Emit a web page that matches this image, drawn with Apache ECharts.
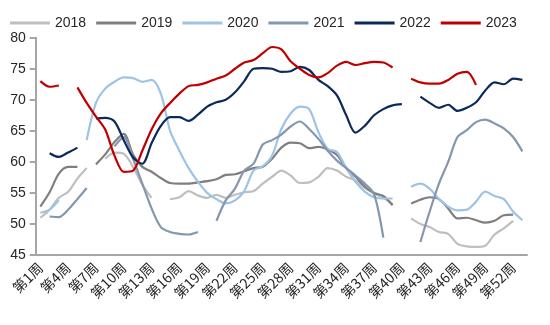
<!DOCTYPE html>
<html>
<head>
<meta charset="utf-8">
<script src="https://cdn.jsdelivr.net/npm/echarts@6/dist/echarts.min.js"></script>
<style>html,body{margin:0;padding:0;background:#fff;}#c{width:550px;height:325px;}</style>
</head>
<body>
<div id="c"></div>
<script>
var weeks = [];
for (var i = 1; i <= 53; i++) weeks.push('第' + i + '周');
var N = null;
var s2018 = [51.0,52.3,54.2,55.2,57.3,59.0,N,60.5,61.5,61.3,59.2,56.3,54.2,N,54.0,54.3,55.3,54.6,54.2,54.7,54.2,54.7,55.1,55.3,56.5,57.6,58.6,57.8,56.6,56.7,57.6,59.0,58.6,57.6,57.0,55.8,54.9,54.2,53.2,N,50.9,50.0,49.5,48.7,48.4,46.8,46.4,46.3,46.5,48.3,49.3,50.5,N];
var s2019 = [52.8,55.1,58.1,59.2,59.2,N,59.6,61.2,63.2,64.5,61.2,59.2,58.4,57.4,56.6,56.5,56.5,56.7,56.9,57.2,57.9,58.0,58.5,59.0,59.2,60.5,62.3,63.1,63.0,62.2,62.4,62.0,61.1,59.0,57.6,56.0,55.0,54.5,53.0,N,53.3,53.9,54.3,54.0,52.5,50.9,51.0,50.6,50.2,50.5,51.4,51.5,N];
var s2020 = [51.8,52.3,53.8,N,N,63.5,69.5,71.8,72.9,73.6,73.5,72.9,73.2,71.0,65.0,61.8,59.0,56.8,55.0,54.0,53.3,53.8,55.3,58.6,59.3,61.0,65.3,67.8,68.9,68.5,64.8,62.1,61.6,59.0,56.8,55.2,54.3,54.1,54.1,N,56.0,56.5,55.7,54.0,52.8,52.2,52.3,53.6,55.2,54.5,54.0,52.0,50.6];
var s2021 = [N,51.2,51.1,52.3,54.0,55.8,N,N,62.5,64.0,60.5,56.5,52.5,49.5,48.7,48.4,48.3,48.7,N,50.5,53.8,55.7,58.6,59.7,62.8,63.5,64.4,65.7,66.5,65.3,63.7,61.8,60.2,59.0,57.8,56.5,54.8,47.8,N,N,N,47.1,52.0,56.5,60.0,64.0,65.1,66.4,66.8,66.2,65.4,64.0,61.7];
var s2022 = [N,61.4,60.8,61.5,62.3,N,67.0,67.1,66.5,63.5,60.7,59.7,63.0,65.8,67.2,67.2,66.6,67.6,68.9,69.6,70.0,71.2,73.0,75.0,75.1,75.0,74.5,74.6,75.3,74.8,73.2,72.2,70.7,67.5,64.7,65.8,67.5,68.5,69.1,69.3,N,70.5,69.5,68.7,69.2,68.2,68.7,69.6,71.5,72.8,72.5,73.4,73.2];
var s2023 = [73.0,72.1,72.3,N,72.0,69.5,67.3,65.2,61.0,58.4,58.6,61.8,65.2,67.8,69.5,71.0,72.2,72.4,72.8,73.4,73.9,75.0,76.0,76.4,77.5,78.5,78.1,76.2,75.0,74.0,73.6,74.3,75.5,76.1,75.6,75.9,76.1,76.0,75.2,N,73.4,72.8,72.6,72.6,73.2,74.2,74.5,72.4,N,N,N,N,N];
var seriesNames = ['2018','2019','2020','2021','2022','2023'];
var seriesData = [s2018, s2019, s2020, s2021, s2022, s2023];
var colors = ['#bfbfbf','#7f7f7f','#9dc3e6','#8497b0','#0b2a5b','#c00000'];

var chart = echarts.init(document.getElementById('c'));
chart.setOption({
  animation: false,
  color: colors,
  legend: {
    top: 11, left: 5,
    itemWidth: 40, itemHeight: 3, itemGap: 10,
    icon: 'rect',
    textStyle: {fontSize: 14, color: '#262626', fontFamily: "'Liberation Sans',Arial,sans-serif"},
    data: seriesNames
  },
  grid: {left: 35.7, right: 23, top: 37.7, bottom: 70},
  xAxis: {
    type: 'category', data: weeks, boundaryGap: true,
    axisLine: {lineStyle: {color: '#a6a6a6', width: 2}},
    axisTick: {interval: 2, length: 6, lineStyle: {color: '#a6a6a6', width: 2}},
    axisLabel: {interval: 2, rotate: 45, margin: 10, fontSize: 14, color: '#262626', fontFamily: "'Noto Sans CJK SC',sans-serif"}
  },
  yAxis: {
    type: 'value', min: 45, max: 80, interval: 5,
    splitLine: {show: false},
    axisLine: {show: true, lineStyle: {color: '#a6a6a6', width: 2}},
    axisTick: {show: true, length: 6, lineStyle: {color: '#a6a6a6', width: 2}},
    axisLabel: {fontSize: 14, color: '#262626', margin: 10, fontFamily: "'Liberation Sans',Arial,sans-serif"}
  },
  series: seriesNames.map(function (n, i) {
    return {
      name: n, type: 'line', data: seriesData[i], smooth: 0.3,
      showSymbol: false, symbol: 'none', connectNulls: false,
      lineStyle: {width: 2.2, color: colors[i]}
    };
  })
});
</script>
</body>
</html>
